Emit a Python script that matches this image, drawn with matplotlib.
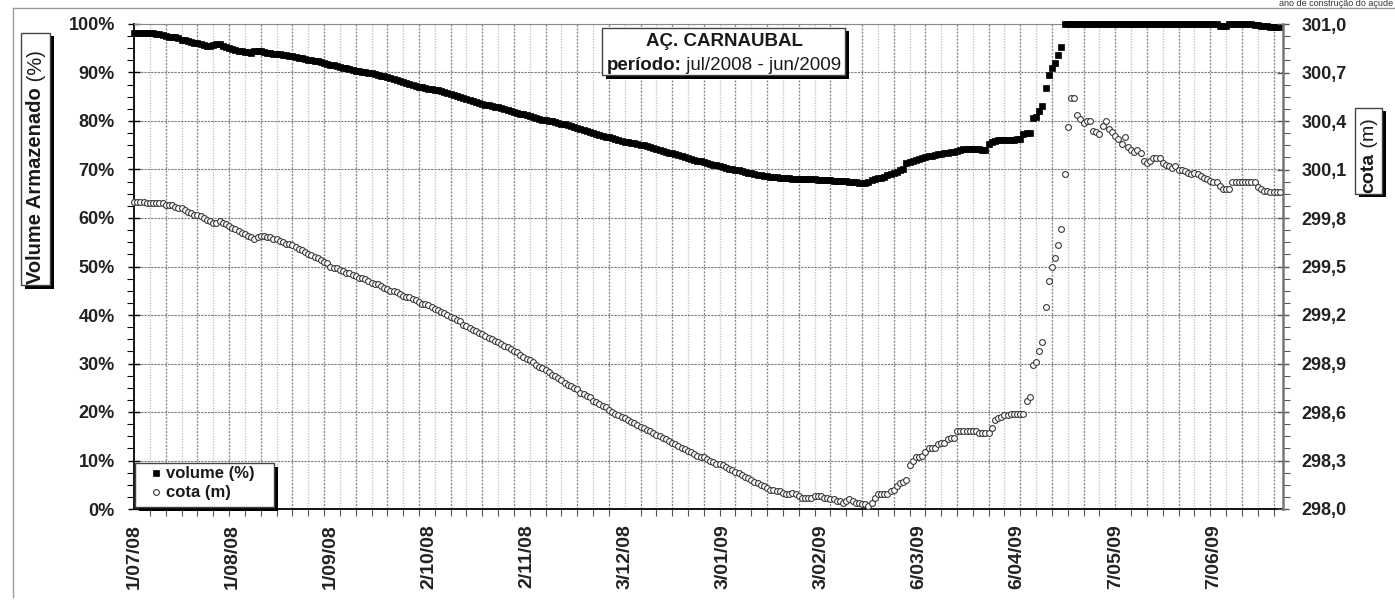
import numpy as np
import matplotlib
matplotlib.use("Agg")
import matplotlib.pyplot as plt
from matplotlib.patches import Rectangle
from matplotlib.lines import Line2D
from matplotlib.ticker import FixedLocator
import matplotlib.dates as mdates

plt.rcParams['font.family'] = ['Liberation Sans', 'DejaVu Sans']

# ---------------- data ----------------
START_DATE = "2008-07-01"

volume_pct = [
    98.2, 98.2, 98.2, 98.2, 98.2, 98.2, 98.2,
    98.0, 98.0, 97.8,
    97.5, 97.4, 97.3, 97.3, 97.2,
    96.8, 96.6, 96.4, 96.2, 96.1, 96.0,
    95.8, 95.6, 95.5, 95.5, 95.6,
    95.9, 95.8,
    95.5, 95.3, 95.1, 94.9, 94.7, 94.5, 94.4, 94.3, 94.2, 94.1,
    94.4, 94.5, 94.4,
    94.2, 94.1, 94.0, 93.9, 93.9, 93.8, 93.7, 93.6,
    93.4, 93.3, 93.2, 93.0, 92.9, 92.8, 92.6, 92.5, 92.4, 92.3, 92.2,
    92.0, 91.8, 91.6, 91.5, 91.3, 91.2, 91.0, 90.9, 90.7, 90.6,
    90.4, 90.3, 90.1, 90.0, 89.9, 89.8, 89.6, 89.5, 89.3, 89.2, 89.0,
    88.8, 88.6, 88.5, 88.3, 88.1, 87.9, 87.7, 87.5, 87.3, 87.1,
    87.0, 86.9, 86.7, 86.6, 86.4, 86.3, 86.1, 85.9, 85.7, 85.5,
    85.3, 85.1, 84.9, 84.7, 84.5, 84.3, 84.2, 84.0, 83.8, 83.6,
    83.4, 83.2, 83.0, 82.9, 82.8, 82.7, 82.5, 82.3, 82.1, 81.9,
    81.7, 81.5, 81.4, 81.2, 81.0, 80.8, 80.6, 80.5, 80.3, 80.2,
    80.0, 79.9, 79.7, 79.6, 79.4, 79.3, 79.1, 79.0, 78.8, 78.6,
    78.4, 78.2, 78.0, 77.8, 77.6, 77.4, 77.2, 77.0, 76.8, 76.6,
    76.4, 76.2, 76.0, 75.9, 75.7, 75.6, 75.5, 75.4, 75.2, 75.1,
    75.0, 74.8, 74.6, 74.5, 74.3, 74.1, 73.9, 73.7, 73.5, 73.3,
    73.1, 72.9, 72.7, 72.5, 72.4, 72.2, 72.0, 71.8, 71.7, 71.5,
    71.3, 71.2, 71.0, 70.9, 70.8, 70.6, 70.4, 70.2, 70.1, 69.9,
    69.8, 69.6, 69.4, 69.3, 69.2, 69.0, 68.9, 68.8, 68.7, 68.6,
    68.5, 68.5, 68.4, 68.3, 68.3, 68.2, 68.2, 68.1, 68.1, 68.0,
    68.0, 68.0, 68.1, 68.0, 68.0, 67.9, 67.9, 67.8, 67.8, 67.8,
    67.7, 67.6, 67.6, 67.7, 67.6, 67.5, 67.4, 67.4, 67.3, 67.3, 67.2,
    67.5, 67.8, 68.0, 68.2, 68.3, 68.5, 68.8, 69.0, 69.3, 69.5, 69.8, 70.0,
    71.3, 71.5, 71.7, 71.9, 72.1, 72.3, 72.5, 72.7, 72.8, 73.0, 73.1, 73.2, 73.3, 73.4,
    73.6, 73.7, 73.8, 74.0, 74.2, 74.3, 74.3, 74.3, 74.3, 74.2, 74.0, 74.0,
    75.3, 75.6, 75.9, 76.0, 76.0, 76.1, 76.1, 76.1, 76.1, 76.2, 76.2, 77.4, 77.5, 77.6,
    80.6, 80.9, 82.0, 83.0, 86.8, 89.5, 91.0, 92.0, 93.6, 95.3,
    100.0, 100.0, 100.0, 100.0, 100.0, 100.0, 100.0, 100.0, 100.0, 100.0,
    100.0, 100.0, 100.0, 100.0, 100.0, 100.0, 100.0, 100.0, 100.0, 100.0,
    100.0, 100.0, 100.0, 100.0, 100.0, 100.0, 100.0, 100.0, 100.0, 100.0,
    100.0, 100.0, 100.0, 100.0, 100.0, 100.0, 100.0, 100.0, 100.0, 100.0,
    100.0, 100.0, 100.0, 100.0, 100.0, 100.0, 100.0, 100.0, 100.0,
    99.6, 99.5, 99.6,
    100.0, 100.0, 100.0, 100.0, 100.0, 100.0, 100.0,
    99.9, 99.8, 99.7, 99.6, 99.5, 99.5, 99.4, 99.4, 99.4, 99.4,
]

cota_m = [
    299.90, 299.90, 299.90, 299.90, 299.89, 299.89, 299.89, 299.89, 299.89, 299.89,
    299.88, 299.88, 299.88, 299.87, 299.86, 299.86, 299.85, 299.84, 299.83, 299.82,
    299.82, 299.81, 299.80, 299.79, 299.78, 299.77, 299.77, 299.78, 299.77, 299.76,
    299.75, 299.74, 299.73, 299.72, 299.71, 299.70, 299.69, 299.68, 299.67, 299.68,
    299.69, 299.69, 299.68, 299.68, 299.67, 299.67, 299.66, 299.65, 299.64, 299.64,
    299.63, 299.62, 299.61, 299.60, 299.59, 299.58, 299.57, 299.56, 299.55, 299.54, 299.53, 299.52,
    299.50, 299.49, 299.49, 299.48, 299.47, 299.46, 299.46, 299.45, 299.44, 299.43,
    299.43, 299.42, 299.41, 299.40, 299.39, 299.39, 299.38, 299.37, 299.36, 299.35,
    299.35, 299.34, 299.33, 299.32, 299.31, 299.31, 299.30, 299.29, 299.28, 299.27, 299.27,
    299.26, 299.25, 299.24, 299.23, 299.22, 299.21, 299.20, 299.19, 299.18, 299.17,
    299.16, 299.14, 299.13, 299.12, 299.11, 299.10, 299.09, 299.08, 299.07, 299.06,
    299.05, 299.04, 299.03, 299.02, 299.01, 299.00, 298.99, 298.98, 298.97, 298.95, 298.94,
    298.93, 298.92, 298.91, 298.89, 298.88, 298.87, 298.86, 298.85, 298.83, 298.82,
    298.81, 298.80, 298.78, 298.77, 298.76, 298.75, 298.74, 298.72, 298.71, 298.70,
    298.69, 298.67, 298.66, 298.65, 298.64, 298.63, 298.61, 298.60, 298.59, 298.58, 298.57,
    298.56, 298.55, 298.54, 298.53, 298.52, 298.51, 298.50, 298.49, 298.48, 298.47,
    298.46, 298.45, 298.44, 298.43, 298.42, 298.41, 298.40, 298.39, 298.38, 298.37,
    298.36, 298.35, 298.34, 298.33, 298.32, 298.32, 298.31, 298.30, 298.29, 298.28, 298.28,
    298.27, 298.26, 298.25, 298.24, 298.23, 298.22, 298.21, 298.20, 298.19, 298.18,
    298.17, 298.16, 298.15, 298.14, 298.13, 298.12, 298.12, 298.11,
    298.11, 298.10, 298.09, 298.09, 298.10, 298.09, 298.08, 298.07, 298.07, 298.07,
    298.07, 298.08, 298.08, 298.08, 298.07, 298.07, 298.06, 298.06, 298.05, 298.05,
    298.04, 298.05, 298.06, 298.05, 298.04, 298.04, 298.03, 298.03, 298.02,
    298.04, 298.07, 298.09, 298.09, 298.09, 298.09,
    298.11, 298.12, 298.14, 298.16, 298.17, 298.18,
    298.27, 298.30, 298.32, 298.32, 298.33, 298.35,
    298.38, 298.38, 298.38, 298.40, 298.41, 298.41, 298.43, 298.44, 298.44,
    298.48, 298.48, 298.48, 298.48, 298.48, 298.48, 298.48,
    298.47, 298.47, 298.47, 298.47, 298.50,
    298.55, 298.56, 298.57, 298.58, 298.58,
    298.59, 298.59, 298.59, 298.59, 298.59,
    298.67, 298.69, 298.89, 298.91, 298.98, 299.03,
    299.25, 299.41, 299.50, 299.55, 299.63, 299.73,
    300.07, 300.36, 300.54, 300.54, 300.44,
    300.41, 300.39, 300.40, 300.40, 300.34, 300.33, 300.32, 300.37, 300.40,
    300.35, 300.33, 300.31, 300.29, 300.26, 300.30,
    300.24, 300.22, 300.21, 300.22, 300.20,
    300.15, 300.14, 300.15, 300.17, 300.17, 300.17,
    300.14, 300.13, 300.12, 300.11, 300.12, 300.10, 300.10,
    300.09, 300.08, 300.07, 300.08, 300.07, 300.06, 300.05,
    300.04, 300.03, 300.02, 300.02, 300.00,
    299.98, 299.98, 299.98,
    300.02, 300.02, 300.02, 300.02, 300.02, 300.02, 300.02, 300.02,
    299.99, 299.98, 299.97, 299.97,
    299.96, 299.96, 299.96, 299.96,
]

x_tick_labels = ["1/07/08", "1/08/08", "1/09/08", "2/10/08", "2/11/08", "3/12/08",
                 "3/01/09", "3/02/09", "6/03/09", "6/04/09", "7/05/09", "7/06/09"]
left_ticks = [0, 10, 20, 30, 40, 50, 60, 70, 80, 90, 100]
left_tick_labels = ["0%", "10%", "20%", "30%", "40%", "50%", "60%", "70%", "80%", "90%", "100%"]
right_ticks = [298.0, 298.3, 298.6, 298.9, 299.2, 299.5, 299.8, 300.1, 300.4, 300.7, 301.0]
right_tick_labels = ["298,0", "298,3", "298,6", "298,9", "299,2", "299,5",
                     "299,8", "300,1", "300,4", "300,7", "301,0"]

# ---------------- layout helpers ----------------
W, H = 1395, 601
def fx(px): return px / W
def fy(py): return 1 - py / H

fig = plt.figure(figsize=(W / 100, H / 100), dpi=100)
fig.patch.set_facecolor('white')

AX_L, AX_R, AX_T, AX_B = 133.5, 1283, 24, 509
ax = fig.add_axes([fx(AX_L), fy(AX_B), (AX_R - AX_L) / W, (AX_B - AX_T) / H])
ax2 = ax.twinx()

x0 = mdates.date2num(np.datetime64(START_DATE))
vol_x = x0 + np.arange(len(volume_pct))
cota_x = x0 + np.arange(len(cota_m))
span_days = 363

# ---------------- grid ----------------
for d in range(5, span_days, 5):
    if d % 10 == 0:
        ax.axvline(x0 + d, color='#8c8c8c', lw=1.0, ls=(0, (1.5, 1)), zorder=0.5)
    else:
        ax.axvline(x0 + d, color='#c4c4c4', lw=1.0, ls=(0, (1, 1)), zorder=0.5)
for v in left_ticks[1:-1]:
    ax.axhline(v, color='#7a7a7a', lw=0.8, ls=(0, (2, 1)), zorder=0.5)

# ---------------- series ----------------
h1, = ax.plot(vol_x, volume_pct, ls='none', marker='s', ms=5, mfc='black',
              mec='black', mew=0.5, clip_on=False, zorder=3, label='volume (%)')
h2, = ax2.plot(cota_x, cota_m, ls='none', marker='o', ms=4.2, mfc='white',
               mec='#3a3a3a', mew=0.8, clip_on=False, zorder=3, label='cota (m)')

# ---------------- axes ----------------
ax.set_xlim(x0 - 0.2, x0 + span_days)
ax.set_ylim(0, 100)
ax2.set_ylim(298.0, 301.0)

ax.xaxis.set_major_locator(FixedLocator([x0 + 31 * k for k in range(len(x_tick_labels))]))
ax.set_xticklabels(x_tick_labels, rotation=90, fontsize=14, fontweight='bold', color='#222222')
ax.xaxis.set_minor_locator(FixedLocator([x0 + d for d in range(0, span_days, 5)]))
ax.tick_params(axis='x', which='major', length=0, pad=11)
ax.tick_params(axis='x', which='minor', length=5, direction='out', color='#555555', width=0.8)

ax.set_yticks(left_ticks)
ax.set_yticklabels(left_tick_labels, fontsize=13, fontweight='bold', color='#222222')
ax.yaxis.set_minor_locator(FixedLocator(np.arange(0, 100.1, 2.5)))
ax.tick_params(axis='y', which='major', length=9, direction='inout', pad=9, width=1)
ax.tick_params(axis='y', which='minor', length=5, direction='out', width=0.8)

ax2.set_yticks(right_ticks)
ax2.set_yticklabels(right_tick_labels, fontsize=13, fontweight='bold', color='#222222')
ax2.yaxis.set_minor_locator(FixedLocator(np.arange(298.0, 301.01, 0.075)))
ax2.tick_params(axis='y', which='major', length=9, direction='inout', pad=9, width=1, color='#555555')
ax2.tick_params(axis='y', which='minor', length=5, direction='out', width=0.8, color='#555555')

for s in ['left', 'bottom']:
    ax.spines[s].set_color('black')
    ax.spines[s].set_linewidth(1.3)
ax.spines['top'].set_color('#888888')
ax.spines['top'].set_linewidth(0.8)
ax.spines['right'].set_visible(False)
ax2.spines['right'].set_color('#777777')
ax2.spines['right'].set_linewidth(1.8)
ax2.spines['top'].set_visible(False)
ax2.spines['left'].set_visible(False)
ax2.spines['bottom'].set_visible(False)

# ---------------- boxes with shadow ----------------
def shadow_box(x1, y1, x2, y2, off=3.5, edge='#444444'):
    fig.add_artist(Rectangle((fx(x1 + off), fy(y2 + off)), (x2 - x1) / W, (y2 - y1) / H,
                             transform=fig.transFigure, facecolor='black', edgecolor='none', zorder=5))
    fig.add_artist(Rectangle((fx(x1), fy(y2)), (x2 - x1) / W, (y2 - y1) / H,
                             transform=fig.transFigure, facecolor='white', edgecolor=edge,
                             lw=1.0, zorder=6))

# chart-area border (partial, as in the reference)
fig.add_artist(Line2D([fx(13), fx(13)], [fy(8), fy(597)], transform=fig.transFigure,
                      color='#9a9a9a', lw=1))
fig.add_artist(Line2D([fx(13), 1], [fy(8), fy(8)], transform=fig.transFigure,
                      color='#9a9a9a', lw=1))
fig.text(fx(1393), fy(6.5), "ano de construção do açude", ha='right', va='baseline',
         fontsize=6.5, color='#333333')

# title box
shadow_box(602, 28, 845, 75)
fig.text(fx(724), fy(42), "AÇ. CARNAUBAL", ha='center', va='center', fontsize=13.5,
         fontweight='bold', color='#1a1a1a', zorder=7)
fig.canvas.draw()
r = fig.canvas.get_renderer()
t_b = fig.text(0, fy(65), "período:", ha='left', va='center', fontsize=13.5,
               fontweight='bold', color='#1a1a1a', zorder=7)
t_r = fig.text(0, fy(65), " jul/2008 - jun/2009", ha='left', va='center', fontsize=13.5,
               color='#1a1a1a', zorder=7)
wb = t_b.get_window_extent(r).width
wr = t_r.get_window_extent(r).width
xs = 724 - (wb + wr) / 2
t_b.set_x(fx(xs))
t_r.set_x(fx(xs + wb))

# left axis label box
shadow_box(21, 33, 50, 285)
t1 = fig.text(fx(36), fy(284), "Volume Armazenado", rotation=90, ha='center', va='bottom',
              fontsize=14.5, fontweight='bold', color='#1a1a1a', zorder=7)
h_1 = t1.get_window_extent(r).height
fig.text(fx(36), fy(284 - h_1), " (%)", rotation=90, ha='center', va='bottom',
         fontsize=14.5, color='#1a1a1a', zorder=7)

# right axis label box
shadow_box(1355, 108, 1382, 194)
t2 = fig.text(fx(1369), fy(193), "cota", rotation=90, ha='center', va='bottom',
              fontsize=14, fontweight='bold', color='#1a1a1a', zorder=7)
h_2 = t2.get_window_extent(r).height
fig.text(fx(1369), fy(193 - h_2), " (m)", rotation=90, ha='center', va='bottom',
         fontsize=14, color='#1a1a1a', zorder=7)

# legend
shadow_box(135, 463, 274, 507)
leg = fig.legend(handles=[h1, h2], loc='upper left', bbox_to_anchor=(fx(148), fy(463)),
                 bbox_transform=fig.transFigure, frameon=False, handlelength=0.5,
                 handletextpad=0.35, labelspacing=0.25, borderaxespad=0, borderpad=0.2,
                 prop={'weight': 'bold', 'size': 12})
leg.set_zorder(8)
for t in leg.get_texts():
    t.set_color('#1a1a1a')

fig.savefig("out.png", dpi=100, facecolor='white')
